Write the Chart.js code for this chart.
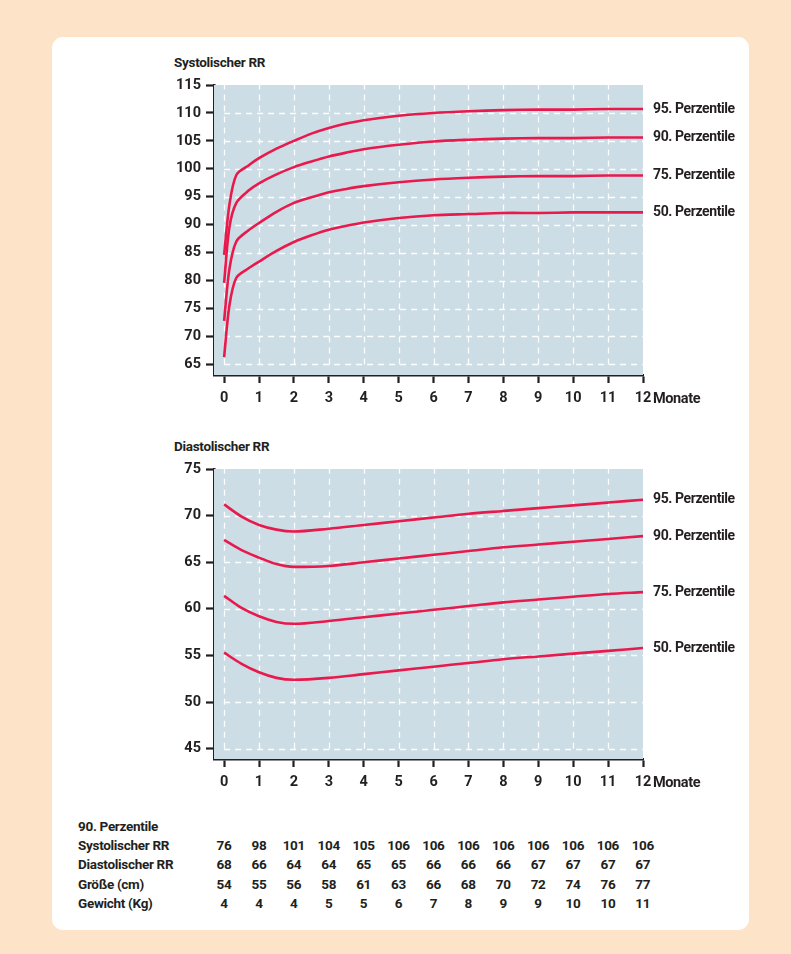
<!DOCTYPE html>
<html>
<head>
<meta charset="utf-8">
<script src="https://cdn.jsdelivr.net/npm/chart.js@4/dist/chart.umd.min.js"></script>
<style>
  html, body { margin:0; padding:0; }
  body { width:791px; height:954px; background:#fde4c8; position:relative; overflow:hidden;
         font-family:Roboto, "Noto Sans", sans-serif; color:#231f20; }
  #card { position:absolute; left:52px; top:37px; width:697px; height:893px; background:#fff; border-radius:11px; }
  .cv { position:absolute; left:150px; width:600px; height:380px; }
  .title { position:absolute; left:174px; font-weight:bold; font-size:13.5px; line-height:16px; letter-spacing:-0.3px; }
  .tbl { position:absolute; font-size:13.5px; font-weight:bold; line-height:16px; white-space:nowrap; letter-spacing:-0.3px; }
  .cell { position:absolute; transform:translateX(-50%); }
</style>
</head>
<body>
<div id="card"></div>
<div class="title" style="top:54px;">Systolischer RR</div>
<div class="title" style="top:438px;">Diastolischer RR</div>
<div class="cv" style="top:40px;"><canvas id="sys" width="600" height="380"></canvas></div>
<div class="cv" style="top:424px;"><canvas id="dia" width="600" height="380"></canvas></div>
<div id="table"></div>
<script>
// ---- data ----
const percentileLabels = ["95. Perzentile", "90. Perzentile", "75. Perzentile", "50. Perzentile"];

const sysMonths = [0, 0.15, 0.35, 0.7, 1, 1.5, 2, 2.5, 3, 3.5, 4, 5, 6, 7, 8, 9, 10, 11, 12];
const sysP95 = [84.6, 93.5, 98.9, 100.6, 101.9, 103.6, 105.0, 106.3, 107.3, 108.1, 108.7, 109.5, 110.0, 110.3, 110.5, 110.6, 110.6, 110.7, 110.7];
const sysP90 = [79.6, 89.5, 93.9, 96.1, 97.4, 99.0, 100.3, 101.3, 102.2, 102.9, 103.5, 104.3, 104.9, 105.2, 105.4, 105.5, 105.5, 105.6, 105.6];
const sysP75 = [72.8, 82.0, 87.0, 89.0, 90.3, 92.3, 93.9, 94.9, 95.8, 96.4, 96.9, 97.6, 98.1, 98.4, 98.6, 98.7, 98.7, 98.8, 98.8];
const sysP50 = [66.3, 75.5, 80.5, 82.2, 83.4, 85.3, 86.9, 88.1, 89.1, 89.8, 90.4, 91.2, 91.7, 91.9, 92.1, 92.1, 92.2, 92.2, 92.2];

const diaMonths = [0, 0.5, 1, 1.5, 2, 3, 4, 5, 6, 7, 8, 9, 10, 11, 12];
const diaP95 = [71.2, 69.9, 69.0, 68.5, 68.3, 68.6, 69.0, 69.4, 69.8, 70.2, 70.5, 70.8, 71.1, 71.4, 71.7];
const diaP90 = [67.4, 66.3, 65.5, 64.8, 64.5, 64.6, 65.0, 65.4, 65.8, 66.2, 66.6, 66.9, 67.2, 67.5, 67.8];
const diaP75 = [61.4, 60.1, 59.2, 58.6, 58.4, 58.7, 59.1, 59.5, 59.9, 60.3, 60.7, 61.0, 61.3, 61.6, 61.8];
const diaP50 = [55.3, 54.1, 53.2, 52.6, 52.4, 52.6, 53.0, 53.4, 53.8, 54.2, 54.6, 54.9, 55.2, 55.5, 55.8];

const xTicks = [0,1,2,3,4,5,6,7,8,9,10,11,12];
const sysYTicks = [65,70,75,80,85,90,95,100,105,110,115];
const diaYTicks = [45,50,55,60,65,70,75];

const tableTitle = "90. Perzentile";
const tableRows = ["Systolischer RR", "Diastolischer RR", "Größe (cm)", "Gewicht (Kg)"];
const tblSys = [76, 98, 101, 104, 105, 106, 106, 106, 106, 106, 106, 106, 106];
const tblDia = [68, 66, 64, 64, 65, 65, 66, 66, 66, 67, 67, 67, 67];
const tblSize = [54, 55, 56, 58, 61, 63, 66, 68, 70, 72, 74, 76, 77];
const tblWeight = [4, 4, 4, 5, 5, 6, 7, 8, 9, 9, 10, 10, 11];

// ---- styling ----
const RED = '#e8194c';
const FONT = 'Roboto, "Noto Sans", sans-serif';
const INK = '#231f20';

const bgGridPlugin = {
  id: 'bgGrid',
  beforeDatasetsDraw(chart) {
    const {ctx, chartArea: a, scales: {x, y}} = chart;
    ctx.save();
    ctx.fillStyle = '#cddde5';
    ctx.fillRect(a.left, a.top, a.right - a.left, a.bottom - a.top);
    ctx.strokeStyle = 'rgba(255,255,255,0.95)';
    ctx.lineWidth = 1.3;
    ctx.setLineDash([6, 5]);
    const yt = chart.options.plugins.bgGrid.yTicks;
    const x0 = x.getPixelForValue(0), x1 = x.getPixelForValue(12);
    const y0 = y.getPixelForValue(yt[0]);
    yt.slice(0, -1).forEach(v => {
      const py = Math.round(y.getPixelForValue(v)) + 0.5;
      ctx.beginPath(); ctx.moveTo(x0, py); ctx.lineTo(x1, py); ctx.stroke();
    });
    xTicks.slice(0, -1).forEach(v => {
      const px = Math.round(x.getPixelForValue(v)) + 0.5;
      ctx.beginPath(); ctx.moveTo(px, y0); ctx.lineTo(px, a.top); ctx.stroke();
    });
    ctx.restore();
  },
  afterDraw(chart) {
    const {ctx, chartArea: a, scales: {x, y}} = chart;
    ctx.save();
    ctx.fillStyle = INK;
    ctx.font = 'bold 14px ' + FONT;
    try { ctx.letterSpacing = '-0.4px'; } catch (e) {}
    ctx.textBaseline = 'middle';
    ctx.textAlign = 'left';
    chart.data.datasets.forEach(ds => {
      const last = ds.data[ds.data.length - 1];
      ctx.fillText(ds.label, a.right + 10, y.getPixelForValue(last.y));
    });
    ctx.font = 'bold 14.5px ' + FONT;
    ctx.fillText('Monate', x.getPixelForValue(12) + 10, a.bottom + 24);
    ctx.restore();
  }
};

function makeChart(id, months, series, yTicks, yMin, yMax, mode, tension) {
  const datasets = series.map((vals, i) => ({
    label: percentileLabels[i],
    data: months.map((m, k) => ({x: m, y: vals[k]})),
    borderColor: RED,
    borderWidth: 2.6,
    pointRadius: 0,
    fill: false,
    tension: tension,
    cubicInterpolationMode: mode
  }));
  return new Chart(document.getElementById(id), {
    type: 'line',
    data: {datasets},
    plugins: [bgGridPlugin],
    options: {
      responsive: false,
      animation: false,
      layout: {padding: {top: 45, right: 107, left: 0, bottom: 0}},
      plugins: {legend: {display: false}, tooltip: {enabled: false}, bgGrid: {yTicks}},
      scales: {
        x: {
          type: 'linear', min: -0.29, max: 12,
          afterBuildTicks: s => { s.ticks = xTicks.map(v => ({value: v})); },
          afterFit: s => { s.height = 45; },
          grid: {drawOnChartArea: false, drawTicks: true, tickLength: 8, tickWidth: 2.2, tickColor: INK},
          border: {display: true, color: INK, width: 2.5},
          ticks: {color: INK, font: {family: FONT, size: 14.5, weight: 'bold'}, padding: 7, maxRotation: 0, autoSkip: false}
        },
        y: {
          type: 'linear', min: yMin, max: yMax,
          afterBuildTicks: s => { s.ticks = yTicks.map(v => ({value: v})); },
          afterFit: s => { s.width = 64; },
          grid: {drawOnChartArea: false, drawTicks: true, tickLength: 8, tickWidth: 2.2, tickColor: INK},
          border: {display: true, color: INK, width: 2.5},
          ticks: {color: INK, font: {family: FONT, size: 14.5, weight: 'bold'}, padding: 5, autoSkip: false}
        }
      }
    }
  });
}

makeChart('sys', sysMonths, [sysP95, sysP90, sysP75, sysP50], sysYTicks, 63.1, 115, 'default', 0.3);
makeChart('dia', diaMonths, [diaP95, diaP90, diaP75, diaP50], diaYTicks, 43.9, 75, 'monotone', 0);

// ---- table ----
(function(){
  const t = document.getElementById('table');
  let html = `<div class="tbl" style="left:78px; top:818px;">${tableTitle}</div>`;
  const rows = [tblSys, tblDia, tblSize, tblWeight];
  const tops = [837, 856, 876, 895];
  rows.forEach((vals, r) => {
    html += `<div class="tbl" style="left:78px; top:${tops[r]}px;">${tableRows[r]}</div>`;
    vals.forEach((v, c) => {
      const cx = 224 + c * 34.9;
      html += `<div class="tbl cell" style="left:${cx}px; top:${tops[r]}px;">${v}</div>`;
    });
  });
  t.innerHTML = html;
})();
</script>
</body>
</html>
